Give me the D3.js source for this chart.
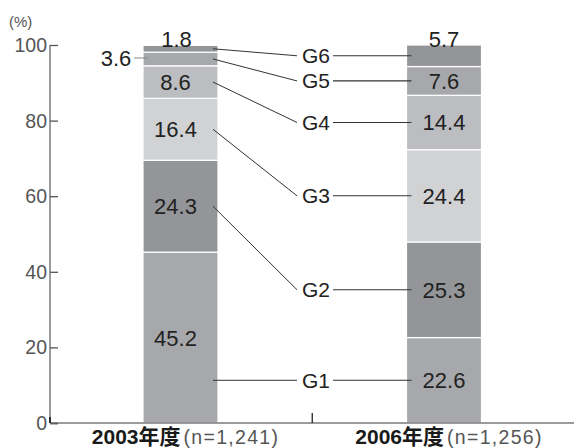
<!DOCTYPE html>
<html>
<head>
<meta charset="utf-8">
<script src="https://cdn.jsdelivr.net/npm/d3@7"></script>
<style>
  html, body { margin: 0; padding: 0; background: #fff; }
  svg { display: block; font-family: "Liberation Sans", Arial, sans-serif; }
</style>
</head>
<body>
<svg id="chart" width="574" height="448"></svg>
<script>
// Survey years and sample sizes
const years = ["2003年度", "2006年度"];
const sampleSizes = ["(n=1,241)", "(n=1,256)"];
// Groups, stacked from the bottom up
const groups = ["G1", "G2", "G3", "G4", "G5", "G6"];
// Share (%) of each group per year
const values2003 = [45.2, 24.3, 16.4, 8.6, 3.6, 1.8];
const values2006 = [22.6, 25.3, 24.4, 14.4, 7.6, 5.7];
// Axis ticks
const yTicks = [0, 20, 40, 60, 80, 100];

const groupColors = ["#a7a8ab", "#939598", "#d1d2d4", "#bcbdc0", "#a7a8ab", "#939598"];

const svg = d3.select("#chart");
const rows = years.map((y, i) => {
  const vals = i === 0 ? values2003 : values2006;
  const r = { year: y };
  groups.forEach((g, k) => r[g] = vals[k]);
  return r;
});

const y = d3.scaleLinear().domain([0, 100]).range([423, 45]);
const x = d3.scalePoint().domain(years).range([180.5, 444]);
const barW = 75;
const color = d3.scaleOrdinal().domain(groups).range(groupColors);

const series = d3.stack().keys(groups)(rows);

// Stacked bars
svg.append("g").selectAll("g").data(series).join("g")
  .attr("fill", d => color(d.key))
  .selectAll("rect").data(d => d).join("rect")
  .attr("x", d => x(d.data.year) - barW / 2)
  .attr("width", barW)
  .attr("y", d => y(d[1]))
  .attr("height", d => y(d[0]) - y(d[1]))
  .attr("stroke", "#fff")
  .attr("stroke-width", 1.2);

// Y axis
const yAxis = svg.append("g").attr("transform", "translate(50,0)")
  .call(d3.axisRight(y).tickValues(yTicks).tickSize(8).tickFormat(""));
yAxis.select(".domain").attr("stroke", "#7a7a7a").attr("stroke-width", 1.5)
  .attr("d", `M0,${y(100)}V${y(0)}`);
yAxis.selectAll(".tick line").attr("stroke", "#555").attr("stroke-width", 1.3);
yAxis.selectAll(".tick").filter(d => d === 0).select("line").attr("stroke", "#111").attr("stroke-width", 1.6);

svg.append("g").selectAll("text").data(yTicks).join("text")
  .attr("x", 47).attr("y", d => y(d) + 7)
  .attr("text-anchor", "end")
  .attr("font-size", 19.5).attr("fill", "#555")
  .text(d => d);

svg.append("text").attr("x", 9).attr("y", 27)
  .attr("font-size", 15).attr("fill", "#555").text("(%)");

// X baseline with a divider tick between the two years
svg.append("line").attr("x1", 50).attr("x2", 574).attr("y1", y(0)).attr("y2", y(0))
  .attr("stroke", "#7a7a7a").attr("stroke-width", 1.5);
svg.append("line").attr("x1", 50).attr("x2", 50).attr("y1", y(0) - 6).attr("y2", y(0))
  .attr("stroke", "#111").attr("stroke-width", 1.6);
const mid = (x(years[0]) + x(years[1])) / 2;
svg.append("line").attr("x1", mid).attr("x2", mid).attr("y1", y(0) - 10).attr("y2", y(0))
  .attr("stroke", "#222").attr("stroke-width", 1.3);

// Year labels
years.forEach((yr, i) => {
  const t = svg.append("text").attr("x", x(yr) + 5).attr("y", 444)
    .attr("text-anchor", "middle");
  t.append("tspan").attr("font-size", 21).attr("font-weight", "bold").attr("fill", "#1a1a1a")
    .attr("font-family", "'Liberation Sans', 'Noto Sans CJK JP', sans-serif").text(yr);
  t.append("tspan").attr("font-size", 19.5).attr("fill", "#555").attr("dx", 3)
    .attr("letter-spacing", 1.3).text(sampleSizes[i]);
});

// Value labels
const labelG = svg.append("g").attr("font-size", 22).attr("fill", "#222").attr("text-anchor", "middle");
series.forEach((s, k) => {
  s.forEach((d, i) => {
    const cx = x(d.data.year);
    const v = d.data[s.key];
    const top = k === groups.length - 1;
    if (top) {
      labelG.append("text").attr("x", cx - (i === 0 ? 4 : 0)).attr("y", y(d[1]) + 2).text(v);
    } else if (v < 5) {
      const my = y((d[0] + d[1]) / 2);
      const left = cx - barW / 2;
      svg.append("line").attr("x1", left - 9).attr("x2", left + 5).attr("y1", my - 1).attr("y2", my - 1)
        .attr("stroke", "#888").attr("stroke-width", 1);
      labelG.append("text").attr("x", left - 27).attr("y", my + 7).text(v);
    } else {
      labelG.append("text").attr("x", cx - (i === 0 ? 5 : 0))
        .attr("y", y((d[0] + d[1]) / 2) + 8).text(v);
    }
  });
});

// Group labels with leader lines to both bars
const x0 = x(years[0]) + barW / 2, x1 = x(years[1]) - barW / 2;
const gx = 316;
groups.forEach((g, k) => {
  const a = series[k][0], b = series[k][1];
  const ly = y((b[0] + b[1]) / 2);
  const top = y(a[1]), bot = y(a[0]);
  const leftY = (ly > top && ly < bot) ? ly : y((a[0] + a[1]) / 2);
  svg.append("line").attr("x1", x0 - 5).attr("y1", leftY).attr("x2", gx - 19).attr("y2", ly)
    .attr("stroke", "#333").attr("stroke-width", 1);
  svg.append("line").attr("x1", gx + 17).attr("y1", ly).attr("x2", x1 + 5).attr("y2", ly)
    .attr("stroke", "#333").attr("stroke-width", 1.1);
  svg.append("text").attr("x", gx).attr("y", ly + 7.5).attr("text-anchor", "middle")
    .attr("font-size", 21).attr("fill", "#222").text(g);
});
</script>
</body>
</html>
